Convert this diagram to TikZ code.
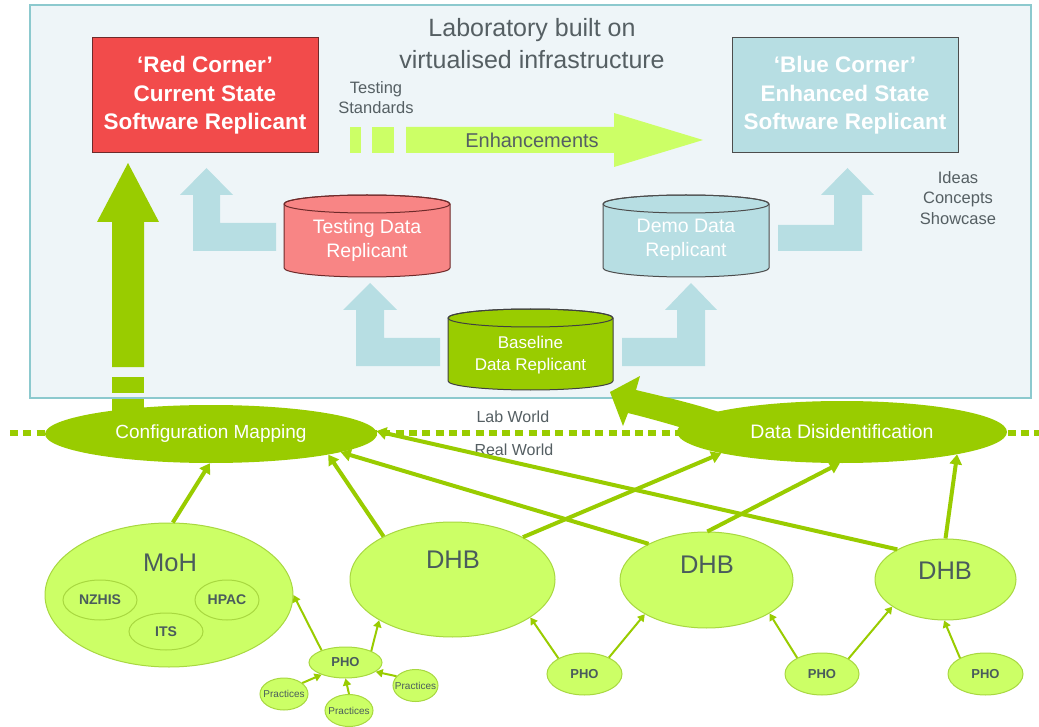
\documentclass[tikz,border=0pt]{standalone}
\usepackage{fontspec}
\setmainfont{Liberation Sans}
\usetikzlibrary{shapes.geometric,arrows.meta}
\definecolor{limeD}{HTML}{99CC00}
\definecolor{limeL}{HTML}{CCFF66}
\definecolor{limeB}{HTML}{A8D840}
\definecolor{blueL}{HTML}{B7DEE3}
\definecolor{labbg}{HTML}{EEF5F8}
\definecolor{labframe}{HTML}{8CC9CE}
\definecolor{redbox}{HTML}{F24B4B}
\definecolor{redcyl}{HTML}{F88585}
\definecolor{redborder}{HTML}{6E2A2A}
\definecolor{txtgray}{HTML}{555F63}
\definecolor{txtdark}{HTML}{4A5C5C}
\newcommand{\myfs}[2]{\fontsize{#1}{#2}\selectfont}
\begin{document}
\begin{tikzpicture}[x=1pt,y=-1pt,
  labtext/.style={text=txtgray},
  darkell/.style={ellipse, fill=limeD, inner sep=0pt, text=white, font=\myfs{19}{23}},
  lightell/.style={ellipse, fill=limeL, draw=limeB, line width=1pt, inner sep=0pt},
  subell/.style={ellipse, fill=limeL, draw=limeB, line width=1pt, inner sep=0pt, text=txtdark, font=\bfseries\myfs{14}{16}},
  phoell/.style={ellipse, fill=limeL, draw=limeB, line width=1pt, inner sep=0pt, text=txtdark, font=\bfseries\myfs{13}{15}},
  pracell/.style={ellipse, fill=limeL, draw=limeB, line width=1pt, inner ysep=0pt, inner xsep=-6pt, text=txtdark, font=\myfs{10}{12}, minimum width=48pt, minimum height=32pt},
  biglabel/.style={text=txtdark, font=\myfs{25.5}{30}},
  cornerbox/.style={rectangle, line width=1pt, minimum width=226pt, minimum height=115pt, text=white, align=center, font=\bfseries\myfs{22.5}{28.5}},
  cyltext/.style={text=white, align=center, font=\myfs{19.5}{24}},
  thickarr/.style={draw=limeD, line width=4pt, -{Triangle[length=10pt,width=12pt]}},
  thinarr/.style={draw=limeD, line width=2pt, -{Triangle[length=7pt,width=8pt]}},
]
\useasboundingbox (0,0) rectangle (1039,727);
\fill[white] (0,0) rectangle (1039,727);

% laboratory frame
\filldraw[fill=labbg, draw=labframe, line width=1.5pt] (30,5) rectangle (1031,398);
\node[labtext, align=center, font=\myfs{25}{32}] (title) at (532,44) {Laboratory built on\\virtualised infrastructure};

% corner boxes
\node[cornerbox, fill=redbox, draw=redborder] (red) at (205,95.5) {‘Red Corner’\\Current State\\Software Replicant};
\node[cornerbox, fill=blueL, draw=black!70] (blue) at (845,95.5) {‘Blue Corner’\\Enhanced State\\Software Replicant};

% testing standards + enhancements
\node[labtext, align=center, font=\myfs{16.5}{20}] (std) at (376,98) {Testing\\Standards};
\fill[limeL] (350,127) rectangle (361,153);
\fill[limeL] (372,127) rectangle (394,153);
\fill[limeL] (406,127) -- (614,127) -- (614,113) -- (703,140) -- (614,167) -- (614,153) -- (406,153) -- cycle;
\node[labtext, font=\myfs{20}{24}] (enh) at (532,140) {Enhancements};
\node[labtext, align=center, font=\myfs{16.5}{20.5}] (ideas) at (958,198) {Ideas\\Concepts\\Showcase};

% light blue L-shaped arrows
\fill[blueL] (276,223) -- (220,223) -- (220,195) -- (233,195) -- (206.5,168) -- (180,195) -- (193,195) -- (193,251) -- (276,251) -- cycle;
\fill[blueL] (440,338) -- (384,338) -- (384,310) -- (397,310) -- (370,283) -- (343,310) -- (356,310) -- (356,366) -- (440,366) -- cycle;
\fill[blueL] (622,338) -- (677,338) -- (677,310) -- (665,310) -- (691,283) -- (717,310) -- (705,310) -- (705,366) -- (622,366) -- cycle;
\fill[blueL] (778,225) -- (834,225) -- (834,195) -- (821,195) -- (847.5,168) -- (874,195) -- (862,195) -- (862,251) -- (778,251) -- cycle;

% cylinders
\filldraw[fill=redcyl, draw=redborder, line width=1pt] (284,204) -- (284,268) arc[start angle=180,end angle=360,x radius=83pt,y radius=9pt] -- (450,204) arc[start angle=0,end angle=180,x radius=83pt,y radius=9pt] -- cycle;
\draw[redborder, line width=1pt] (367,204) ellipse[x radius=83pt,y radius=9pt];
\node[cyltext] (testcyl) at (367,240) {Testing Data\\Replicant};

\filldraw[fill=blueL, draw=black!70, line width=1pt] (603,204) -- (603,268) arc[start angle=180,end angle=360,x radius=83pt,y radius=9pt] -- (769,204) arc[start angle=0,end angle=180,x radius=83pt,y radius=9pt] -- cycle;
\draw[black!70, line width=1pt] (686,204) ellipse[x radius=83pt,y radius=9pt];
\node[cyltext] (democyl) at (686,240) {Demo Data\\Replicant};

\filldraw[fill=limeD, draw=black!75, line width=1pt] (448,318) -- (448,381) arc[start angle=180,end angle=360,x radius=82.5pt,y radius=9pt] -- (613,318) arc[start angle=0,end angle=180,x radius=82.5pt,y radius=9pt] -- cycle;
\draw[black!75, line width=1pt] (530.5,318) ellipse[x radius=82.5pt,y radius=9pt];
\node[cyltext, font=\myfs{17}{22}] (basecyl) at (530.5,355) {Baseline\\Data Replicant};

% big green arrow up to red corner
\fill[limeD] (112,367) -- (112,222) -- (97,222) -- (128,163) -- (159,222) -- (144,222) -- (144,367) -- cycle;
\fill[limeD] (112,377) rectangle (144,393);
\fill[limeD] (112,399) rectangle (144,420);

% lab / real world divider
\draw[limeD, line width=5.5pt, dash pattern=on 8pt off 5.3pt] (10,433) -- (1039,433);
\node[labtext, anchor=west, font=\myfs{16}{19}] (lab) at (473,417) {Lab World};
\node[labtext, anchor=west, font=\myfs{16}{19}] (real) at (471,450) {Real World};

% curved block arrow into baseline
\fill[limeD] (610,392) -- (640,376) -- (636,390) .. controls (665,397) and (692,403) .. (722,413) -- (714,438) .. controls (684,428) and (656,420) .. (628,413) -- (623,426) -- cycle;

% mapping ellipses
\node[darkell, minimum width=332pt, minimum height=58pt] (cfg) at (211,434) {Configuration Mapping};
\node[darkell, minimum width=330pt, minimum height=62pt, font=\myfs{19.5}{23}] (dd) at (842,432) {Data Disidentification};

% real-world organisations
\node[lightell, minimum width=248pt, minimum height=144pt] (moh) at (169,595) {};
\node[biglabel] (mohlbl) at (170,563) {MoH};
\node[subell, minimum width=74pt, minimum height=40pt] (nzhis) at (100,600) {NZHIS};
\node[subell, minimum width=64pt, minimum height=40pt] (hpac) at (227,600) {HPAC};
\node[subell, minimum width=74pt, minimum height=37pt] (its) at (166,631.5) {ITS};

\node[lightell, minimum width=205pt, minimum height=115pt] (dhb1) at (452.5,579.5) {};
\node[biglabel] (dhb1lbl) at (453,560) {DHB};
\node[lightell, minimum width=173pt, minimum height=96pt] (dhb2) at (706.5,580) {};
\node[biglabel] (dhb2lbl) at (707,565) {DHB};
\node[lightell, minimum width=141pt, minimum height=81pt] (dhb3) at (945.5,579.5) {};
\node[biglabel] (dhb3lbl) at (945,571) {DHB};

\node[phoell, minimum width=73pt, minimum height=31pt] (pho1) at (345.5,662.5) {PHO};
\node[phoell, minimum width=75pt, minimum height=42pt] (pho2) at (584.5,674) {PHO};
\node[phoell, minimum width=74pt, minimum height=42pt] (pho3) at (822,674) {PHO};
\node[phoell, minimum width=75pt, minimum height=42pt] (pho4) at (985.5,674) {PHO};

\node[pracell] (pr1) at (284,694) {Practices};
\node[pracell] (pr2) at (349,710.5) {Practices};
\node[pracell, minimum width=45pt] (pr3) at (415.5,685.5) {Practices};

% thick connectors
\draw[thickarr] (moh.87) -- (cfg.268);
\draw[thickarr] (dhb1.148) -- (cfg.-10);
\draw[thickarr] (dhb2.148) -- (cfg.-8);
\draw[thickarr] (dhb3.148) -- (cfg.1);
\draw[thickarr] (dhb1.31) -- (dd.190);
\draw[thickarr] (dhb2.89) -- (dd.266);
\draw[thickarr] (dhb3.90) -- (dd.-11);

% thin connectors
\draw[thinarr] (pho1.153) -- (moh.0);
\draw[thinarr] (pho1.24) -- (dhb1.209);
\draw[thinarr] (pr1.31) -- (pho1.207);
\draw[thinarr] (pr2.90) -- (pho1.270);
\draw[thinarr] (pr3.154) -- (pho1.-17);
\draw[thinarr] (pho2.149) -- (dhb1.-26);
\draw[thinarr] (pho2.34) -- (dhb2.209);
\draw[thinarr] (pho3.147) -- (dhb2.-28);
\draw[thinarr] (pho3.30) -- (dhb3.207);
\draw[thinarr] (pho4.148) -- (dhb3.268);
\end{tikzpicture}
\end{document}
